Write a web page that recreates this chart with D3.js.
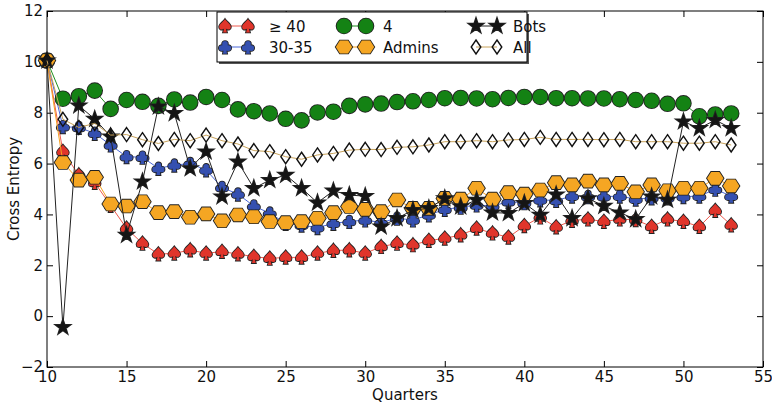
<!DOCTYPE html>
<html>
<head>
<meta charset="utf-8">
<script src="https://cdn.jsdelivr.net/npm/d3@7"></script>
<style>
body { margin: 0; background: #fff; }
text { font-family: "DejaVu Sans", sans-serif; }
</style>
</head>
<body>
<svg id="svg" width="772" height="404"></svg>
<script>
// quarters on the x axis
var quarters = [10,11,12,13,14,15,16,17,18,19,20,21,22,23,24,25,26,27,28,29,30,31,
  32,33,34,35,36,37,38,39,40,41,42,43,44,45,46,47,48,49,50,51,52,53];

var ge40 = [10.05,6.47,5.55,5.25,4.35,3.45,2.86,2.44,2.47,2.6,2.47,2.54,2.44,2.34,2.27,2.31,2.31,2.47,
  2.58,2.6,2.47,2.73,2.86,2.8,2.97,3.06,3.19,3.45,3.26,3.1,3.55,3.89,3.5,3.76,3.81,3.72,3.81,3.79,
  3.52,3.81,3.72,3.52,4.15,3.58];
var age3035 = [10.05,7.45,7.42,7.19,6.73,6.27,6.25,5.81,5.94,6.0,5.75,5.06,4.8,4.33,4.05,3.65,3.58,3.48,
  3.65,3.72,3.78,3.68,3.85,3.78,3.98,4.2,4.28,4.37,4.33,4.5,4.46,4.57,4.55,4.72,4.7,4.7,4.72,4.6,
  4.65,4.65,4.7,4.72,4.99,4.72];
var four = [10.05,8.55,8.65,8.87,8.15,8.5,8.43,8.27,8.52,8.4,8.62,8.5,8.13,8.06,7.97,7.76,7.7,8.01,
  8.04,8.27,8.33,8.36,8.42,8.45,8.5,8.57,8.58,8.56,8.53,8.58,8.62,8.62,8.57,8.57,8.56,8.56,8.53,8.5,
  8.47,8.35,8.37,7.86,7.93,7.97];
var admins = [10.05,6.04,5.35,5.46,4.41,4.33,4.5,4.07,4.11,3.89,4.02,3.75,3.98,3.91,3.72,3.68,3.72,3.85,
  4.07,4.31,4.2,4.11,4.57,4.24,4.24,4.63,4.6,5.03,4.6,4.86,4.8,4.96,5.25,5.16,5.31,5.16,5.22,4.89,
  5.16,4.93,5.03,5.03,5.42,5.12];
var bots = [10.05,-0.44,8.28,7.75,7.06,3.19,5.29,8.24,7.98,5.81,6.47,4.7,6.07,5.03,5.35,5.55,5.03,4.46,
  4.93,4.76,4.72,3.52,3.85,4.17,4.24,4.63,4.31,4.57,4.07,4.05,4.44,3.98,4.78,3.85,4.63,4.33,4.07,3.81,
  4.7,4.57,7.65,7.39,7.71,7.39];
var all = [10.05,7.74,7.42,7.58,7.12,7.14,6.94,6.79,6.95,6.9,7.12,6.9,6.77,6.51,6.47,6.27,6.17,6.34,
  6.4,6.53,6.56,6.55,6.64,6.66,6.73,6.86,6.86,6.9,6.86,6.93,6.95,7.03,6.95,6.95,6.95,6.94,6.95,6.86,
  6.86,6.86,6.8,6.8,6.86,6.73];

var xTicks = [10,15,20,25,30,35,40,45,50,55];
var yTicks = [-2,0,2,4,6,8,10,12];

var series = [
  {name: "\u2265 40", values: ge40, marker: "spade", fill: "#e0352b", line: "#ee5a4e"},
  {name: "30-35", values: age3035, marker: "club", fill: "#3550b0", line: "#4a68d8"},
  {name: "4", values: four, marker: "circle", fill: "#148214", line: "#1f8f1f"},
  {name: "Admins", values: admins, marker: "hex", fill: "#f5a623", line: "#f5a020"},
  {name: "Bots", values: bots, marker: "star", fill: "#151515", line: "#222"},
  {name: "All", values: all, marker: "diamond", fill: "none", line: "#c8a25a"}
];

var svg = d3.select("#svg");
var padL = 47, padR = 763, padT = 11, padB = 367;
var x = d3.scaleLinear().domain([10, 55]).range([padL, padR]);
var y = d3.scaleLinear().domain([-2, 12]).range([padB, padT]);

//---------- marker shapes (centered on 0,0) ----------
var circ = function(cx, cy, r) {
  return "M" + (cx - r) + "," + cy + "a" + r + "," + r + " 0 1,0 " + (2 * r) + ",0" +
    "a" + r + "," + r + " 0 1,0 " + (-2 * r) + ",0Z";
};
var markerPath = function(type) {
  var s, p, i, a;
  if (type == "circle") return circ(0, 0, 7.4);
  if (type == "hex") {
    p = [];
    for (i = 0; i < 6; i++) { a = i * Math.PI / 3; p.push([8.2 * Math.cos(a), 7.4 * Math.sin(a)]); }
    return "M" + p.join("L") + "Z";
  }
  if (type == "diamond") return "M0,-7L4.8,0L0,7L-4.8,0Z";
  if (type == "star") {
    p = [];
    for (i = 0; i < 10; i++) {
      var r = i % 2 ? 3.0 : 7.6;
      a = -Math.PI / 2 + i * Math.PI / 5;
      p.push([r * Math.cos(a), r * Math.sin(a)]);
    }
    return "M" + p.join("L") + "Z";
  }
  s = 6.8;
  if (type == "spade") {
    return "M0," + (-s) +
      "C" + (0.3 * s) + "," + (-0.55 * s) + " " + (0.86 * s) + "," + (-0.3 * s) + " " + (0.86 * s) + "," + (0.15 * s) +
      "C" + (0.86 * s) + "," + (0.55 * s) + " " + (0.45 * s) + "," + (0.65 * s) + " " + (0.12 * s) + "," + (0.38 * s) +
      "L" + (0.28 * s) + "," + (0.95 * s) + "L" + (-0.28 * s) + "," + (0.95 * s) + "L" + (-0.12 * s) + "," + (0.38 * s) +
      "C" + (-0.45 * s) + "," + (0.65 * s) + " " + (-0.86 * s) + "," + (0.55 * s) + " " + (-0.86 * s) + "," + (0.15 * s) +
      "C" + (-0.86 * s) + "," + (-0.3 * s) + " " + (-0.3 * s) + "," + (-0.55 * s) + " 0," + (-s) + "Z";
  }
  // club
  return circ(0, -0.45 * s, 0.42 * s) + circ(-0.48 * s, 0.15 * s, 0.42 * s) +
    circ(0.48 * s, 0.15 * s, 0.42 * s) + circ(0, 0, 0.3 * s) +
    "M" + (-0.12 * s) + ",0.2" + "L" + (-0.3 * s) + "," + (0.98 * s) + "L" + (0.3 * s) + "," + (0.98 * s) +
    "L" + (0.12 * s) + ",0.2Z";
};

var drawMarker = function(g, d, cx, cy) {
  g.append("path")
    .attr("d", markerPath(d.marker))
    .attr("transform", "translate(" + cx + "," + cy + ")")
    .attr("fill", d.fill)
    .attr("stroke", d.marker == "diamond" ? "#111" : "#222")
    .attr("stroke-width", d.marker == "diamond" ? 1.4 : 1.8)
    .attr("stroke-linejoin", "miter")
    .style("paint-order", "stroke");
};

//---------- axes ----------
var setupAxes = function() {
  var gx = svg.append("g").attr("transform", "translate(0," + padB + ")")
    .call(d3.axisBottom(x).tickValues(xTicks).tickSize(-6).tickPadding(4));
  var gxt = svg.append("g").attr("transform", "translate(0," + padT + ")")
    .call(d3.axisTop(x).tickValues(xTicks).tickSize(-6).tickFormat(""));
  var gy = svg.append("g").attr("transform", "translate(" + padL + ",0)")
    .call(d3.axisLeft(y).tickValues(yTicks).tickSize(-6).tickPadding(4)
      .tickFormat(function(d) { return d < 0 ? "\u2212" + (-d) : d; }));
  var gyr = svg.append("g").attr("transform", "translate(" + padR + ",0)")
    .call(d3.axisRight(y).tickValues(yTicks).tickSize(-6).tickFormat(""));
  [gx, gxt, gy, gyr].forEach(function(g) {
    g.select(".domain").remove();
    g.selectAll("line").attr("stroke", "#000").attr("stroke-width", 1);
    g.selectAll("text").attr("font-size", 15).attr("fill", "#111")
      .attr("font-family", "DejaVu Sans");
  });
  svg.append("rect").attr("x", padL).attr("y", padT)
    .attr("width", padR - padL).attr("height", padB - padT)
    .attr("fill", "none").attr("stroke", "#000").attr("stroke-width", 1);

  svg.append("text").attr("x", (padL + padR) / 2).attr("y", 400)
    .attr("text-anchor", "middle").attr("font-size", 15).attr("fill", "#111").text("Quarters");
  svg.append("text").attr("transform", "translate(19," + (padT + padB) / 2 + ") rotate(-90)")
    .attr("text-anchor", "middle").attr("font-size", 15).attr("fill", "#111").text("Cross Entropy");
};

//---------- series ----------
var plot = function() {
  var line = d3.line().x(function(d, i) { return x(quarters[i]); }).y(function(d) { return y(d); });
  series.forEach(function(s) {
    var g = svg.append("g");
    g.append("path").attr("d", line(s.values)).attr("fill", "none")
      .attr("stroke", s.line).attr("stroke-width", 1);
    s.values.forEach(function(v, i) { drawMarker(g, s, x(quarters[i]), y(v)); });
  });
};

//---------- legend ----------
var legend = function() {
  var lx = 217, ly = 12, lw = 310, lh = 50;
  var g = svg.append("g");
  g.append("rect").attr("x", lx + 2).attr("y", ly + 2).attr("width", lw).attr("height", lh).attr("fill", "#555");
  g.append("rect").attr("x", lx).attr("y", ly).attr("width", lw).attr("height", lh)
    .attr("fill", "#fff").attr("stroke", "#000").attr("stroke-width", 1);
  var cols = [[225, 248, 269], [344, 366, 383], [476, 497, 513]];
  var rows = [26, 47];
  series.forEach(function(s, i) {
    var c = cols[Math.floor(i / 2)], r = rows[i % 2];
    g.append("line").attr("x1", c[0]).attr("x2", c[1]).attr("y1", r).attr("y2", r)
      .attr("stroke", s.line).attr("stroke-width", 1);
    drawMarker(g, s, c[0], r);
    drawMarker(g, s, c[1], r);
    g.append("text").attr("x", c[2]).attr("y", r + 5.5).attr("font-size", 15).attr("fill", "#111").text(s.name);
  });
};

setupAxes();
plot();
legend();
</script>
</body>
</html>
